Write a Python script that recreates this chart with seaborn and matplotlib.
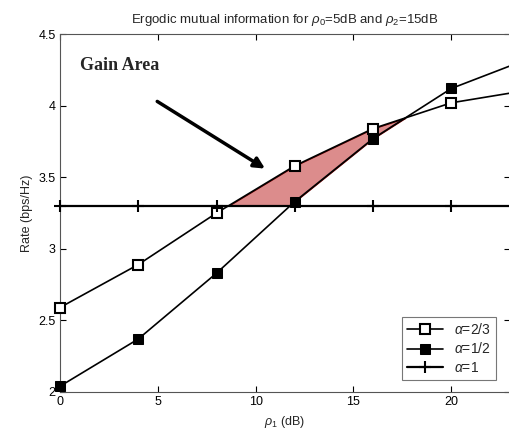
import numpy as np
import seaborn as sns
import matplotlib.pyplot as plt

# valeurs
snr_db = [0, 4, 8, 12, 16, 20, 24]
rate_a23 = [2.59, 2.89, 3.25, 3.58, 3.84, 4.02, 4.11]
rate_a12 = [2.04, 2.37, 2.83, 3.33, 3.77, 4.12, 4.33]
rate_a1 = [3.30, 3.30, 3.30, 3.30, 3.30, 3.30, 3.30]

sns.set_style("white")
plt.rcParams['font.family'] = ['Liberation Sans', 'DejaVu Sans']
plt.rcParams['mathtext.fontset'] = 'custom'
plt.rcParams['mathtext.rm'] = 'Liberation Sans'
plt.rcParams['mathtext.it'] = 'Liberation Sans:italic'

fig = plt.figure(figsize=(5.1, 4.37), dpi=100)
ax = fig.add_axes([0.1176, 0.103, 0.8824, 0.819])

# zone de gain
xs = np.linspace(0, 24, 600)
yo = np.interp(xs, snr_db, rate_a23)
base = np.maximum(np.interp(xs, snr_db, rate_a12), np.interp(xs, snr_db, rate_a1))
ax.fill_between(xs, yo, base, where=yo > base, interpolate=True,
                facecolor='#dc8c8c', edgecolor='#7a0000', linewidth=0.8, zorder=1)

sns.lineplot(x=snr_db, y=rate_a23, ax=ax, color='black', lw=1.2, marker='s', ms=7,
             markerfacecolor='white', markeredgecolor='black', markeredgewidth=1.5,
             label=r'$\alpha$=2/3', zorder=3, clip_on=False)
sns.lineplot(x=snr_db, y=rate_a12, ax=ax, color='black', lw=1.2, marker='s', ms=7,
             markerfacecolor='black', markeredgecolor='black',
             label=r'$\alpha$=1/2', zorder=3, clip_on=False)
sns.lineplot(x=snr_db, y=rate_a1, ax=ax, color='black', lw=1.6, marker='+', ms=9,
             markeredgecolor='black', markeredgewidth=1.5, label=r'$\alpha$=1',
             zorder=3, clip_on=False)

ax.set_xlim(0, 23)
ax.set_ylim(2, 4.5)
ax.set_xticks([0, 5, 10, 15, 20])
ax.set_yticks([2, 2.5, 3, 3.5, 4, 4.5])
ax.set_yticklabels(['2', '2.5', '3', '3.5', '4', '4.5'])
ax.tick_params(direction='in', bottom=True, left=True, top=True, right=True,
               length=4, width=0.8, labelsize=9, colors='black', pad=3)
for s in ax.spines.values():
    s.set_color('#555555')
    s.set_linewidth(0.8)

ax.set_title(r'Ergodic mutual information for $\rho_0$=5dB and $\rho_2$=15dB',
             fontsize=9.5, pad=8)
ax.set_xlabel(r'$\rho_1$ (dB)', fontsize=9)
ax.set_ylabel('Rate (bps/Hz)', fontsize=9)

ax.text(1.0, 4.28, 'Gain Area', fontsize=13, fontweight='bold',
        family='Liberation Serif', va='center')
ax.annotate('', xy=(10.6, 3.55), xytext=(4.85, 4.04),
            arrowprops=dict(arrowstyle='-|>', color='black', lw=2.5,
                            mutation_scale=16))

leg = ax.legend(loc='lower right', bbox_to_anchor=(0.968, 0.033), borderaxespad=0,
                fontsize=10, frameon=True, fancybox=False, edgecolor='#555555',
                handlelength=2.6, borderpad=0.35, labelspacing=0.35)
leg.get_frame().set_linewidth(0.8)

fig.savefig('out.png', dpi=100)
